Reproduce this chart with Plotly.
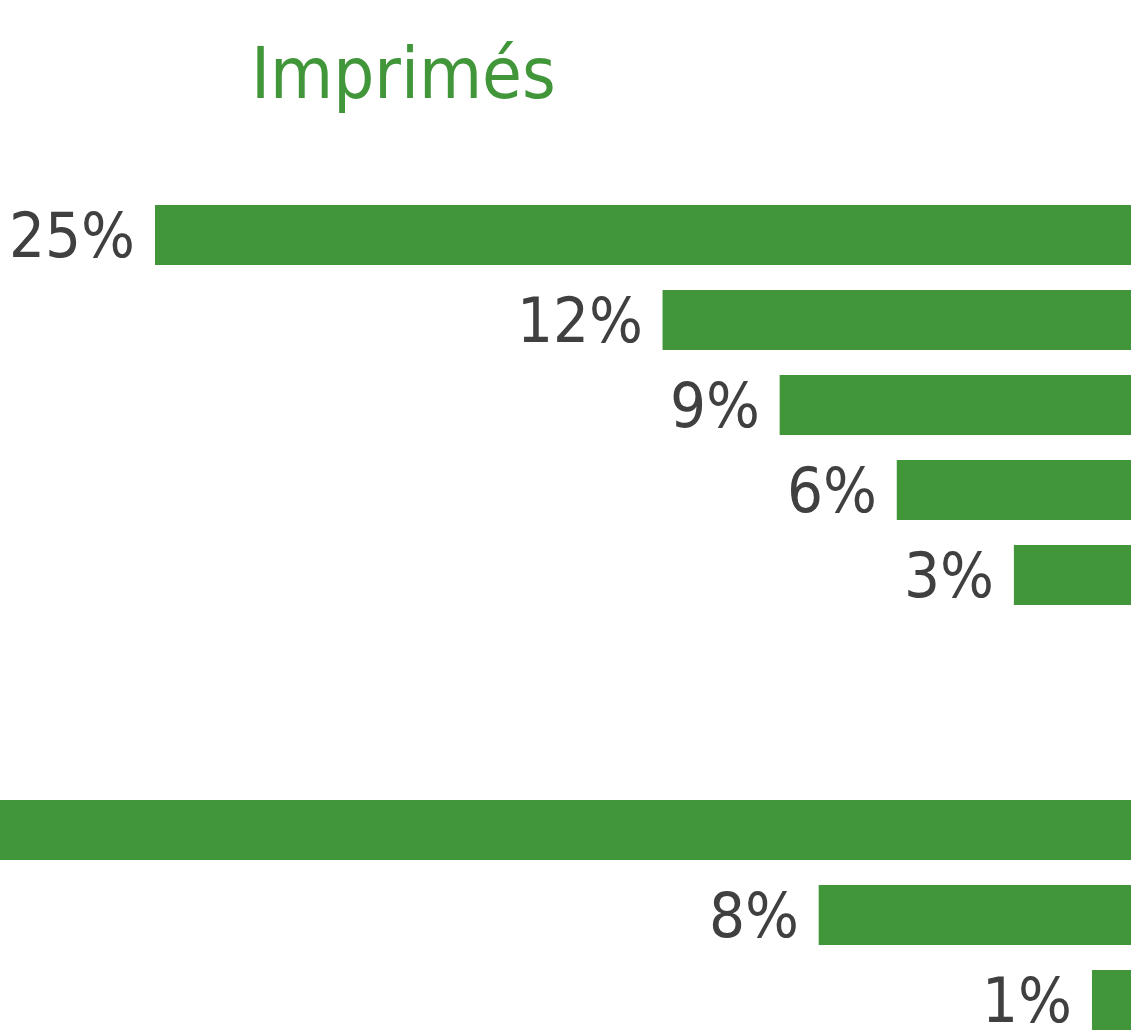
import plotly.graph_objects as go

categories = ["A", "B", "C", "D", "E", "gap1", "gap2", "F", "G", "H"]
bar_categories = ["A", "B", "C", "D", "E", "F", "G", "H"]
values = [25, 12, 9, 6, 3, 30, 8, 1]
labels = ["25%", "12%", "9%", "6%", "3%", "30%", "8%", "1%"]

GREEN = "#41963A"
GRAY = "#404040"
FONT = "DejaVu Sans Condensed, Roboto, sans-serif"
X_MAX = 28.97

fig = go.Figure(go.Bar(
    y=bar_categories, x=values, orientation="h",
    marker=dict(color=GREEN, line=dict(width=0)),
    cliponaxis=True, hoverinfo="skip",
))

annotations = [dict(text="Imprimés", x=0.357, y=1.0, xref="paper", yref="paper",
                    xanchor="center", yanchor="top", yshift=121, showarrow=False,
                    font=dict(family=FONT, size=72, color=GREEN))]
for cat, val, lab in zip(bar_categories, values, labels):
    if val < X_MAX:
        annotations.append(dict(text=lab, x=val, y=cat, xref="x", yref="y",
                                xanchor="right", yanchor="middle", xshift=-18,
                                showarrow=False,
                                font=dict(family=FONT, size=63, color=GRAY)))

fig.update_layout(
    width=1133, height=1032,
    margin=dict(l=0, r=2, t=150, b=0),
    paper_bgcolor="white", plot_bgcolor="white",
    bargap=0.294, showlegend=False,
    xaxis=dict(range=[X_MAX, 0], visible=False, fixedrange=True),
    yaxis=dict(categoryorder="array", categoryarray=categories,
               range=[9.376, -1.0], visible=False, fixedrange=True),
    annotations=annotations,
)

fig.write_html("out.html", config={"displayModeBar": False},
               post_script="document.body.style.margin='0';document.body.style.overflow='hidden';")
